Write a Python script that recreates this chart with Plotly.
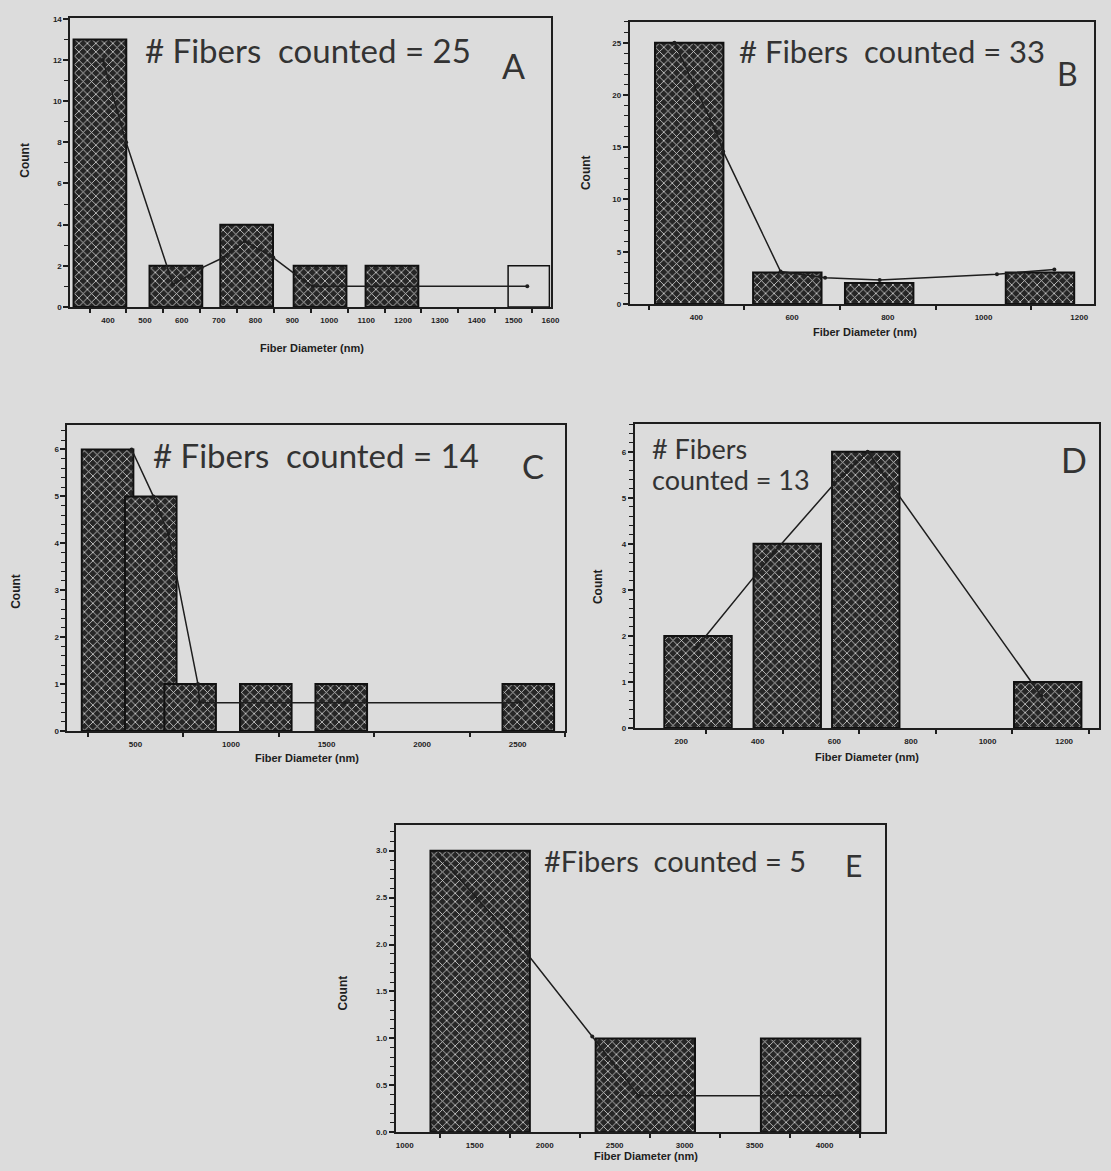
import plotly.graph_objects as go

W, H = 1111, 1171

# ---------------- data ----------------
# Panel A
A_bins = [378, 584, 776, 975, 1170]
A_counts = [13, 2, 4, 2, 2]
A_open_bins = [1541]
A_open_counts = [2]
A_curve_x = [386, 449, 576, 654, 713, 771, 848, 918, 956, 1537]
A_curve_y = [12, 8, 1.1, 1.9, 2.4, 3.2, 2.4, 1.45, 1.0, 1.0]
A_xticks = [400, 500, 600, 700, 800, 900, 1000, 1100, 1200, 1300, 1400, 1500, 1600]
A_yticks = [0, 2, 4, 6, 8, 10, 12, 14]

# Panel B
B_bins = [385, 590, 782, 1118]
B_counts = [25, 3, 2, 3]
B_curve_x = [354, 441, 456, 576, 669, 783, 1028, 1148]
B_curve_y = [25, 16.5, 14.6, 3.1, 2.5, 2.3, 2.85, 3.3]
B_xticks = [400, 600, 800, 1000, 1200]
B_yticks = [0, 5, 10, 15, 20, 25]

# Panel C
C_bins = [354, 580, 786, 1182, 1577, 2556]
C_counts = [6, 5, 1, 1, 1, 1]
C_curve_x = [480, 594, 672, 827, 836, 1596, 2516]
C_curve_y = [6.0, 5.0, 4.2, 1.0, 0.6, 0.6, 0.6]
C_xticks = [500, 1000, 1500, 2000, 2500]
C_yticks = [0, 1, 2, 3, 4, 5, 6]

# Panel D
D_bins = [244, 477, 682, 1157]
D_counts = [2, 4, 6, 1]
D_curve_x = [240, 441, 599, 687, 1140]
D_curve_y = [1.75, 3.8, 5.3, 6.0, 0.7]
D_xticks = [200, 400, 600, 800, 1000, 1200]
D_yticks = [0, 1, 2, 3, 4, 5, 6]

# Panel E
E_bins = [1539, 2719, 3900]
E_counts = [3, 1, 1]
E_curve_x = [1252, 1886, 2340, 2671, 4113]
E_curve_y = [2.93, 1.88, 1.02, 0.39, 0.39]
E_xticks = [1000, 1500, 2000, 2500, 3000, 3500, 4000]
E_yticks = [0.0, 0.5, 1.0, 1.5, 2.0, 2.5, 3.0]

panel_texts = {
    "A": "#\u00a0Fibers\u00a0\u00a0counted\u00a0=\u00a025",
    "B": "#\u00a0Fibers\u00a0\u00a0counted\u00a0=\u00a033",
    "C": "#\u00a0Fibers\u00a0\u00a0counted\u00a0=\u00a014",
    "D1": "#\u00a0Fibers",
    "D2": "counted\u00a0=\u00a013",
    "E": "#Fibers\u00a0\u00a0counted\u00a0=\u00a05",
}
x_title = "Fiber Diameter (nm)"
y_title = "Count"

# ---------------- layout helpers ----------------
BG = "#dcdcdc"
INK = "#1e1e1e"


def px(x):
    return x / W


def py(y):
    return 1 - y / H


def frange(a, b, s):
    out, v = [], a
    while v <= b + 1e-9:
        out.append(round(v, 6))
        v += s
    return out


panels = [
    dict(name="A", box=(71, 555, 15, 306), xr=[298, 1600], yr=[0, 14.05],
         bins=A_bins, counts=A_counts, width=143, cx=A_curve_x, cy=A_curve_y,
         xt=A_xticks, xtt=[str(v) for v in A_xticks], xminor=frange(350, 1550, 100),
         yt=A_yticks, ytt=[str(v) for v in A_yticks], yminor=frange(0, 14, 1)),
    dict(name="B", box=(635, 1103, 19, 303), xr=[261, 1231], yr=[0, 27],
         bins=B_bins, counts=B_counts, width=143, cx=B_curve_x, cy=B_curve_y,
         xt=B_xticks, xtt=[str(v) for v in B_xticks], xminor=frange(300, 1100, 200),
         yt=B_yticks, ytt=[str(v) for v in B_yticks], yminor=frange(0, 27, 1)),
    dict(name="C", box=(68, 570, 425, 733), xr=[144, 2750], yr=[0, 6.52],
         bins=C_bins, counts=C_counts, width=270, cx=C_curve_x, cy=C_curve_y,
         xt=C_xticks, xtt=[str(v) for v in C_xticks], xminor=frange(250, 2750, 500),
         yt=C_yticks, ytt=[str(v) for v in C_yticks], yminor=frange(0, 6.4, 0.2)),
    dict(name="D", box=(640, 1108, 424, 730), xr=[79, 1291], yr=[0, 6.6],
         bins=D_bins, counts=D_counts, width=176, cx=D_curve_x, cy=D_curve_y,
         xt=D_xticks, xtt=[str(v) for v in D_xticks], xminor=[265, 465, 665, 865, 1065, 1265],
         yt=D_yticks, ytt=[str(v) for v in D_yticks], yminor=frange(0, 6.6, 0.2)),
    dict(name="E", box=(399, 892, 828, 1137), xr=[936, 4430], yr=[0, 3.27],
         bins=E_bins, counts=E_counts, width=710, cx=E_curve_x, cy=E_curve_y,
         xt=E_xticks, xtt=[str(v) for v in E_xticks], xminor=frange(1250, 4250, 500),
         yt=E_yticks, ytt=["%.1f" % v for v in E_yticks], yminor=frange(0, 3.2, 0.1)),
]

bar_marker = dict(
    color="#2a2a2a",
    line=dict(color="#111111", width=2),
    pattern=dict(shape="x", fillmode="replace", bgcolor="#262626",
                 fgcolor="#d0d0d0", size=6, solidity=0.26),
)

fig = go.Figure()
layout = dict(
    width=W, height=H, margin=dict(l=0, r=0, t=0, b=0),
    paper_bgcolor=BG, plot_bgcolor=BG, showlegend=False, barmode="overlay",
    annotations=[],
)

tickfont = dict(family="Liberation Sans", size=8, color=INK, weight="bold")

for i, p in enumerate(panels):
    k = "" if i == 0 else str(i + 1)
    xa, ya = "x" + k, "y" + k
    x0, x1, y0, y1 = p["box"]
    fig.add_trace(go.Bar(x=p["bins"], y=p["counts"], width=p["width"],
                         marker=bar_marker, xaxis=xa, yaxis=ya))
    if p["name"] == "A":
        fig.add_trace(go.Bar(x=A_open_bins, y=A_open_counts, width=112,
                             marker=dict(color="rgba(0,0,0,0)",
                                         line=dict(color="#111111", width=1.5)),
                             xaxis=xa, yaxis=ya))
    fig.add_trace(go.Scatter(x=p["cx"], y=p["cy"], mode="lines+markers",
                             line=dict(color=INK, width=1.5),
                             marker=dict(color=INK, size=4),
                             xaxis=xa, yaxis=ya))
    layout["xaxis" + k] = dict(
        domain=[px(x0), px(x1)], range=p["xr"], anchor=ya,
        tickmode="array", tickvals=p["xt"], ticktext=p["xtt"], ticks="",
        ticklabelstandoff=4,
        minor=dict(tickmode="array", tickvals=p["xminor"], ticks="outside",
                   ticklen=4, tickwidth=1.5, tickcolor=INK),
        showline=True, linecolor=INK, linewidth=2, mirror=True,
        showgrid=False, zeroline=False, tickfont=tickfont,
    )
    layout["yaxis" + k] = dict(
        domain=[py(y1), py(y0)], range=p["yr"], anchor=xa,
        tickmode="array", tickvals=p["yt"], ticktext=p["ytt"], ticks="outside",
        ticklen=5, tickwidth=1.5, tickcolor=INK,
        minor=dict(tickmode="array", tickvals=p["yminor"], ticks="outside",
                   ticklen=4, tickwidth=1, tickcolor=INK),
        showline=True, linecolor=INK, linewidth=2, mirror=True,
        showgrid=False, zeroline=False, tickfont=tickfont,
    )

ann = layout["annotations"]


def add_text(text, x, y, size, xanchor="left", angle=0, family="Lato", color="#333333", weight="normal"):
    ann.append(dict(text=text, x=px(x), y=py(y), xref="paper", yref="paper",
                    xanchor=xanchor, yanchor="middle", showarrow=False,
                    textangle=angle,
                    font=dict(family=family, size=size, color=color, weight=weight)))


# panel texts
add_text(panel_texts["A"], 144, 47, 33)
add_text("A", 518, 63, 34, xanchor="center")
add_text(panel_texts["B"], 743, 48, 31)
add_text("B", 1076, 71, 32, xanchor="center")
add_text(panel_texts["C"], 152, 455, 33)
add_text("C", 537, 466, 33, xanchor="center")
add_text(panel_texts["D1"], 655, 449, 27)
add_text(panel_texts["D2"], 655, 480, 27)
add_text("D", 1083, 460, 34, xanchor="center")
add_text(panel_texts["E"], 546, 863, 29)
add_text("E", 860, 868, 30, xanchor="center")

# axis titles
for (xx, yy) in [(315, 347), (872, 331), (310, 760), (874, 759), (651, 1161)]:
    add_text(x_title, xx, yy, 11, xanchor="center", family="Liberation Sans",
             color=INK, weight="bold")
for (xx, yy) in [(25, 158), (591, 171), (16, 592), (603, 588), (346, 997)]:
    add_text(y_title, xx, yy, 12, xanchor="center", angle=-90,
             family="Liberation Sans", color=INK, weight="bold")

fig.update_layout(**layout)
fig.write_html("out.html")
